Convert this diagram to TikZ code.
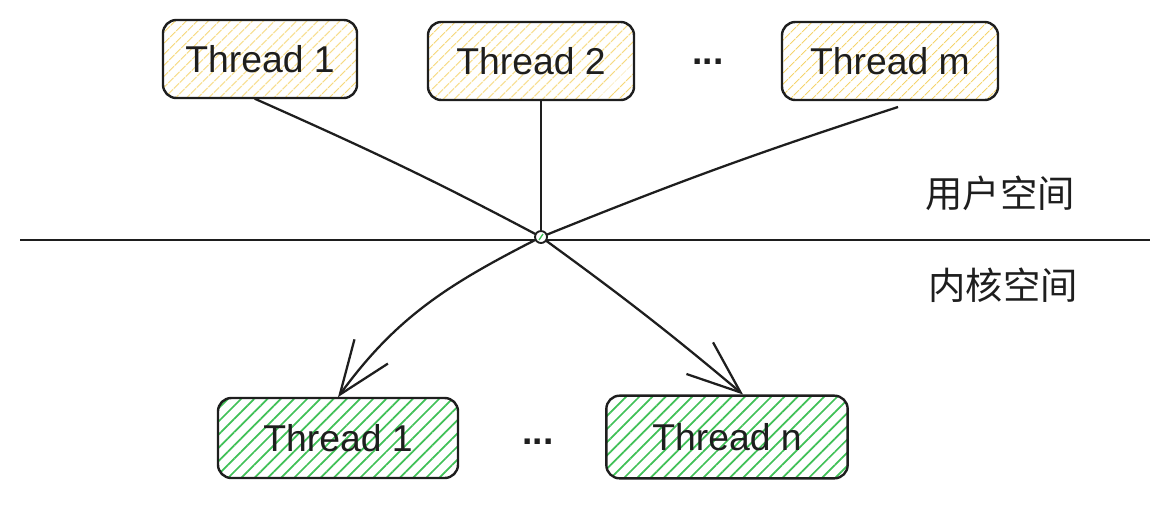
\documentclass[tikz,border=0pt]{standalone}
\usepackage{fontspec}
\setmainfont{Liberation Sans}
\newfontfamily\cjk{Noto Sans CJK SC}
\usetikzlibrary{arrows.meta,patterns.meta,calc}
\definecolor{ink}{HTML}{1E1E1E}
\definecolor{hatchY}{HTML}{F5D46E}
\definecolor{hatchG}{HTML}{40C057}
\begin{document}
\begin{tikzpicture}[x=0.75pt,y=0.75pt,
 box/.style={draw=ink,line width=1.8pt,rounded corners=10pt,inner sep=0pt,font=\fontsize{28}{30}\selectfont,text=ink},
 user/.style={box,pattern={Lines[angle=45,distance=6.5pt,line width=1pt]},pattern color=hatchY},
 kern/.style={box,pattern={Lines[angle=45,distance=7pt,line width=1.3pt]},pattern color=hatchG},
 link/.style={draw=ink,line width=1.7pt},
 arr/.style={link,-{Straight Barb[length=40pt,width=31pt,line width=1.7pt]}},
 lbl/.style={font=\cjk\fontsize{28}{30}\selectfont,text=ink},
 dots/.style={font=\bfseries\fontsize{28}{30}\selectfont,text=ink}]
\useasboundingbox (0,0) rectangle (1169,-508);

% boxes
\node[user,minimum width=145.5pt,minimum height=58.5pt] (t1) at (260,-59) {Thread 1};
\node[user,minimum width=154.5pt,minimum height=58.5pt] (t2) at (531,-61) {Thread 2};
\node[user,minimum width=162pt,minimum height=58.5pt] (tm) at (890,-61) {Thread m};
\node[dots] (d1) at (708,-62) {...};

\node[kern,minimum width=180pt,minimum height=60pt] (b1) at (338,-438) {Thread 1};
\node[kern,minimum width=181pt,minimum height=62pt] (bn) at (727,-437) {Thread n};
\node[dots] (d2) at (538,-442) {...};

% divider
\coordinate (hl) at (20,-240);
\coordinate (hr) at (1150,-240);
\draw[link,line width=1.6pt] (hl) -- (hr);
\node[lbl] (us) at (1000,-193) {用户空间};
\node[lbl] (ks) at (1003,-285) {内核空间};

% connectors
\coordinate (c) at (541,-237);
\coordinate (ms) at (898,-107);
\draw[link] ([xshift=-4pt]t1.south) to[out=-24,in=152] (c);
\draw[link] ([xshift=7.5pt]t2.south) -- (c);
\draw[link] (ms) to[out=198,in=22] (c);
\draw[arr] (c) to[out=207,in=54] (b1.north);
\draw[arr] (c) to[out=-36,in=140] ([xshift=12pt]bn.north);

\node[circle,draw=ink,fill=white,line width=1.4pt,minimum size=9pt,inner sep=0pt] (hub) at (c) {};
\draw[hatchG,line width=1pt] ($(hub.center)+(-2,-3)$) -- ($(hub.center)+(2,3)$);
\end{tikzpicture}
\end{document}
